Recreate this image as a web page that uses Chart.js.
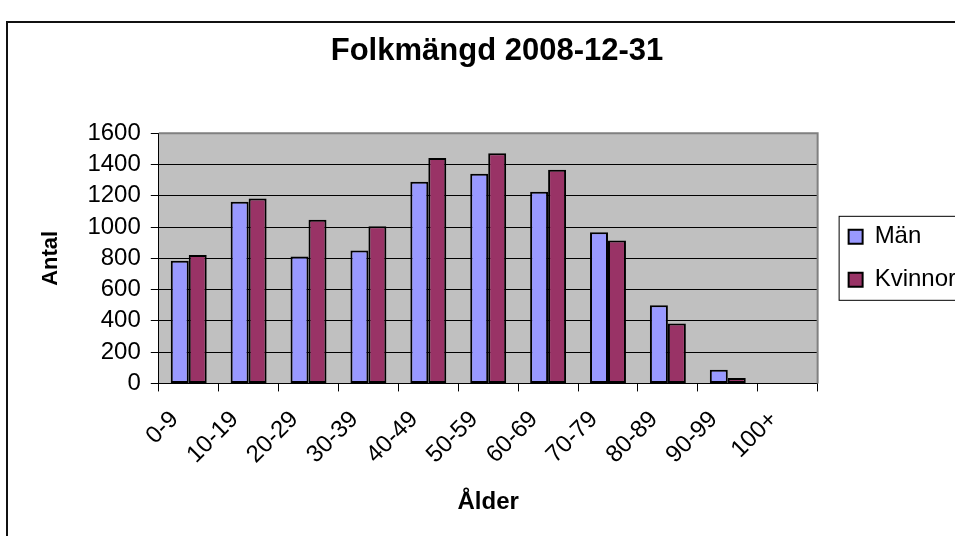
<!DOCTYPE html>
<html>
<head>
<meta charset="utf-8">
<script src="https://cdn.jsdelivr.net/npm/chart.js@4"></script>
<style>
    html, body { margin: 0; padding: 0; background: #fff; overflow: hidden; width: 955px; height: 536px; }
    #frame { position: absolute; left: 6px; top: 21px; border: 2px solid #111; width: 1000px; height: 560px; }
    canvas { display: block; }
</style>
</head>
<body>
<div id="frame"><canvas id="myChart" width="1000" height="560"></canvas></div>
<script>
// --- DATI ---
const categories = ['0-9', '10-19', '20-29', '30-39', '40-49', '50-59', '60-69', '70-79', '80-89', '90-99', '100+'];
const man = [785, 1162, 811, 850, 1290, 1341, 1225, 966, 500, 87, 0];
const kvinnor = [821, 1183, 1046, 1005, 1442, 1471, 1367, 914, 384, 35, 0];
const yTicks = [0, 200, 400, 600, 800, 1000, 1200, 1400, 1600];

const FONT = "'Liberation Sans', Arial, sans-serif";

// sfondo grigio del plot + bordo grigio sopra/destra + cornice legenda
const plotBox = {
    id: 'plotBox',
    beforeDraw(chart) {
        const { ctx, chartArea: a } = chart;
        ctx.save();
        ctx.fillStyle = '#C0C0C0';
        ctx.fillRect(a.left, a.top, a.right - a.left, a.bottom - a.top);
        ctx.restore();
    },
    afterDraw(chart) {
        const { ctx, chartArea: a } = chart;
        ctx.save();
        ctx.strokeStyle = '#808080';
        ctx.lineWidth = 2;
        ctx.beginPath();
        ctx.moveTo(a.left, a.top);
        ctx.lineTo(a.right, a.top);
        ctx.lineTo(a.right, a.bottom);
        ctx.stroke();

        const hb = chart.legend.legendHitBoxes;
        if (hb && hb.length) {
            const top = hb[0].top - 9;
            const bottom = hb[hb.length - 1].top + hb[hb.length - 1].height + 8;
            ctx.strokeStyle = '#000';
            ctx.lineWidth = 1;
            ctx.strokeRect(hb[0].left - 9.5, top + 0.5, chart.width, bottom - top);
        }
        ctx.restore();
    }
};

const ctx = document.getElementById('myChart').getContext('2d');
new Chart(ctx, {
    type: 'bar',
    data: {
        labels: categories,
        datasets: [
            { label: 'Män', data: man, backgroundColor: '#9999FF', borderColor: '#000', borderWidth: 2, borderSkipped: false },
            { label: 'Kvinnor', data: kvinnor, backgroundColor: '#993366', borderColor: '#000', borderWidth: 2, borderSkipped: false }
        ]
    },
    options: {
        responsive: false,
        animation: false,
        layout: { padding: { left: 20, top: 4, right: 42, bottom: 56 } },
        datasets: { bar: { categoryPercentage: 0.6, barPercentage: 1.0 } },
        plugins: {
            title: {
                display: true,
                text: 'Folkmängd 2008-12-31',
                color: '#000',
                font: { family: FONT, size: 31, weight: 'bold' },
                padding: { top: 6, bottom: 63 }
            },
            legend: {
                position: 'right',
                fullSize: false,
                labels: {
                    color: '#000',
                    font: { family: FONT, size: 24 },
                    boxWidth: 14,
                    boxHeight: 14,
                    padding: 19
                }
            },
            tooltip: { enabled: false }
        },
        scales: {
            x: {
                grid: { drawOnChartArea: false, drawTicks: true, tickLength: 8, color: '#000', offset: true },
                border: { color: '#000', width: 1 },
                ticks: {
                    color: '#000',
                    font: { family: FONT, size: 24 },
                    minRotation: 45,
                    maxRotation: 45,
                    autoSkip: false,
                    padding: 14,
                    labelOffset: -14
                },
                title: {
                    display: true,
                    text: 'Ålder',
                    color: '#000',
                    font: { family: FONT, size: 24, weight: 'bold' },
                    padding: { top: 5, bottom: 10 }
                }
            },
            y: {
                min: 0,
                max: 1600,
                afterBuildTicks: scale => { scale.ticks = yTicks.map(v => ({ value: v })); },
                grid: { color: '#000', tickLength: 8, lineWidth: 1 },
                border: { color: '#000', width: 1 },
                ticks: {
                    color: '#000',
                    font: { family: FONT, size: 24 },
                    padding: 10,
                    autoSkip: false,
                    callback: v => String(v)
                },
                title: {
                    display: true,
                    text: 'Antal',
                    color: '#000',
                    font: { family: FONT, size: 22, weight: 'bold' },
                    padding: { top: 10, bottom: 13 }
                }
            },
            y2: {
                position: 'right',
                display: true,
                grid: { display: false },
                border: { display: false },
                ticks: { display: false },
                afterFit: scale => { scale.width = 12; }
            }
        }
    },
    plugins: [plotBox]
});
</script>
</body>
</html>
